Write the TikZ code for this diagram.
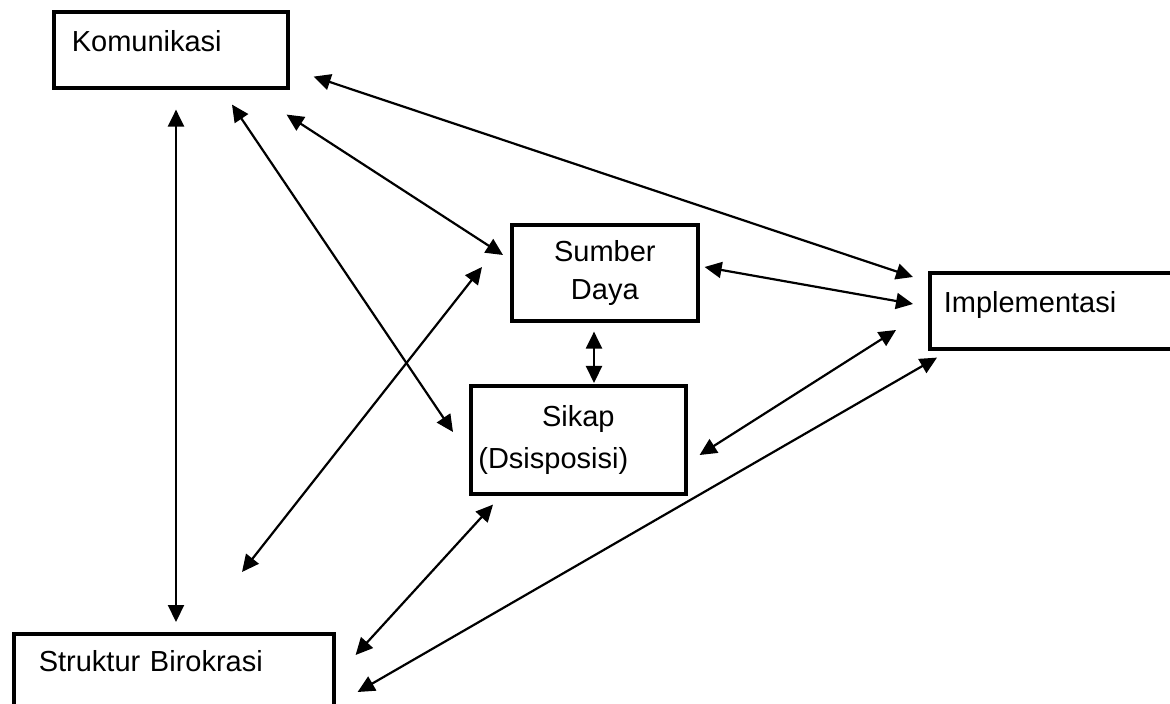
\documentclass[tikz,border=0pt]{standalone}
\usepackage{fontspec}
\setmainfont{Liberation Sans}
\usetikzlibrary{arrows.meta}
\tikzset{
  blk/.style={draw,rectangle,line width=1.8pt,anchor=north west,inner ysep=0pt,font=\fontsize{14.5}{19}\selectfont},
  lbox/.style={blk,align=left,text height=20pt,text depth=18pt},
  cbox/.style={blk,align=center},
  rel/.style={line width=1.1pt,{Triangle[length=8.5pt,width=8pt]}-{Triangle[length=8.5pt,width=8pt]}},
}
\begin{document}
\begin{tikzpicture}[x=0.5pt,y=-0.5pt]
  \useasboundingbox (0,0) rectangle (1170,704);
  \clip (0,0) rectangle (1170,704);
  \node[lbox,inner xsep=9pt,text width=99pt] (kom) at (52,10) {Komunikasi};
  \node[cbox,minimum width=93pt,minimum height=48pt] (sd) at (510,223) {Sumber\\Daya};
  \node[cbox,minimum width=107.5pt,minimum height=54pt,font=\fontsize{14.5}{21}\selectfont] (sik) at (469,384) {Sikap\\(Dsisposisi)\hspace*{25pt}};
  \node[lbox,inner xsep=7pt,text width=136pt] (imp) at (928,271) {Implementasi};
  \node[lbox,inner xsep=12.5pt,text width=135pt,text height=19pt,text depth=31pt] (str) at (12,632) {Struktur Birokrasi};
  \draw[rel] ([shift={(124,20)}]kom.south west) -- ([shift={(164,-10)}]str.north west);
  \draw[rel] ([shift={(180,15)}]kom.south west) -- ([shift={(-16,48)}]sik.north west);
  \draw[rel] ([shift={(-3,25)}]kom.south east) -- ([shift={(-7,32)}]sd.north west);
  \draw[rel] ([shift={(24,-13)}]kom.south east) -- ([shift={(-15,6)}]imp.north west);
  \draw[rel] ([shift={(5,44)}]sd.north east) -- ([shift={(-15,33)}]imp.north west);
  \draw[rel] ([shift={(84,9)}]sd.south west) -- ([shift={(125,-1)}]sik.north west);
  \draw[rel] ([shift={(230,-60)}]str.north west) -- ([shift={(-28,44)}]sd.north west);
  \draw[rel] ([shift={(12,71)}]sik.north east) -- ([shift={(-32,59)}]imp.north west);
  \draw[rel] ([shift={(20,23)}]str.north east) -- ([shift={(24,9)}]sik.south west);
  \draw[rel] ([shift={(22,60)}]str.north east) -- ([shift={(9,7)}]imp.south west);
\end{tikzpicture}
\end{document}
